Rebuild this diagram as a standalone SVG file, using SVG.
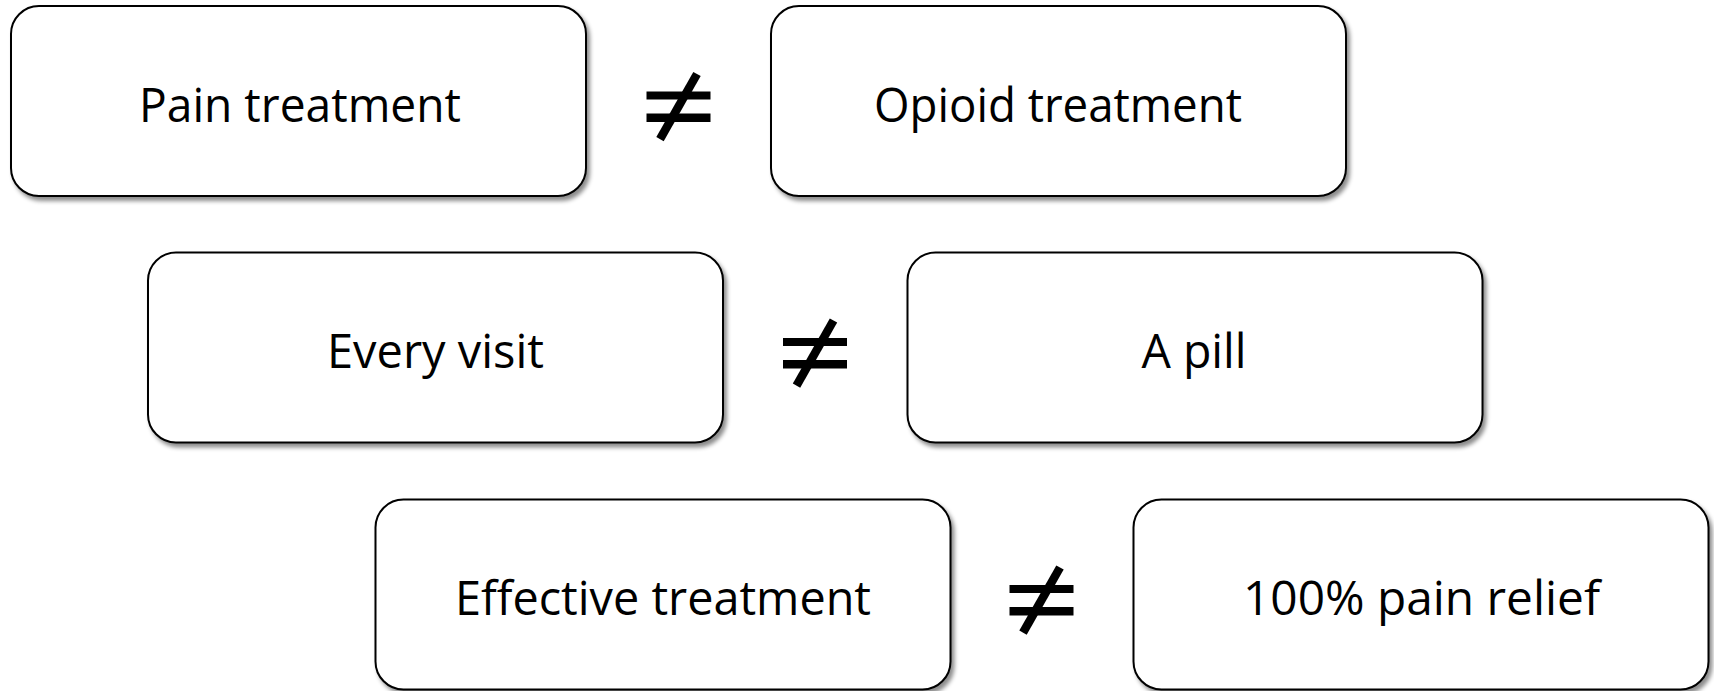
<svg xmlns="http://www.w3.org/2000/svg" width="1714" height="691" viewBox="0 0 1714 691">
  <defs>
    <filter id="shadow" x="-5%" y="-5%" width="112%" height="115%">
      <feDropShadow dx="3" dy="4" stdDeviation="2" flood-color="#000" flood-opacity="0.45"/>
    </filter>
    <!-- not-equal shape, centred on the origin -->
    <g id="neq">
      <rect x="-32" y="-15" width="64" height="8"/>
      <rect x="-32" y="7" width="64" height="8.5"/>
      <line x1="18.5" y1="-32.5" x2="-18.5" y2="32.7" stroke="#000" stroke-width="8.5"/>
    </g>
  </defs>
  <style>
    .box { fill: #fff; stroke: #000; stroke-width: 2; filter: url(#shadow); }
    .label { font-family: "Open Sans", "Liberation Sans", sans-serif; font-size: 48px; fill: #000; text-anchor: middle; }
  </style>
  <rect width="1714" height="691" fill="#fff"/>

  <!-- row 1 -->
  <g id="pain-treatment">
    <rect class="box" x="11" y="6" width="575" height="190" rx="28"/>
    <text class="label" x="300" y="121.5" textLength="322" lengthAdjust="spacingAndGlyphs">Pain treatment</text>
  </g>
  <g id="opioid-treatment">
    <rect class="box" x="771" y="6" width="575" height="190" rx="28"/>
    <text class="label" x="1058" y="121.5" textLength="368" lengthAdjust="spacingAndGlyphs">Opioid treatment</text>
  </g>

  <!-- row 2 -->
  <g id="every-visit">
    <rect class="box" x="148" y="252.5" width="575" height="190" rx="28"/>
    <text class="label" x="435.5" y="368" textLength="217" lengthAdjust="spacingAndGlyphs">Every visit</text>
  </g>
  <g id="a-pill">
    <rect class="box" x="907.5" y="252.5" width="575" height="190" rx="28"/>
    <text class="label" x="1194" y="368" textLength="105" lengthAdjust="spacingAndGlyphs">A pill</text>
  </g>

  <!-- row 3 -->
  <g id="effective-treatment">
    <rect class="box" x="375.5" y="499.5" width="575" height="190" rx="28"/>
    <text class="label" x="663" y="615" textLength="416" lengthAdjust="spacingAndGlyphs">Effective treatment</text>
  </g>
  <g id="full-pain-relief">
    <rect class="box" x="1133.5" y="499.5" width="575" height="190" rx="28"/>
    <text class="label" x="1421.5" y="615" textLength="357" lengthAdjust="spacingAndGlyphs">100% pain relief</text>
  </g>

  <!-- not-equal signs between each pair -->
  <g id="connectors">
    <use href="#neq" x="678.5" y="106.5"/>
    <use href="#neq" x="815" y="353"/>
    <use href="#neq" x="1041.5" y="600"/>
  </g>
</svg>
